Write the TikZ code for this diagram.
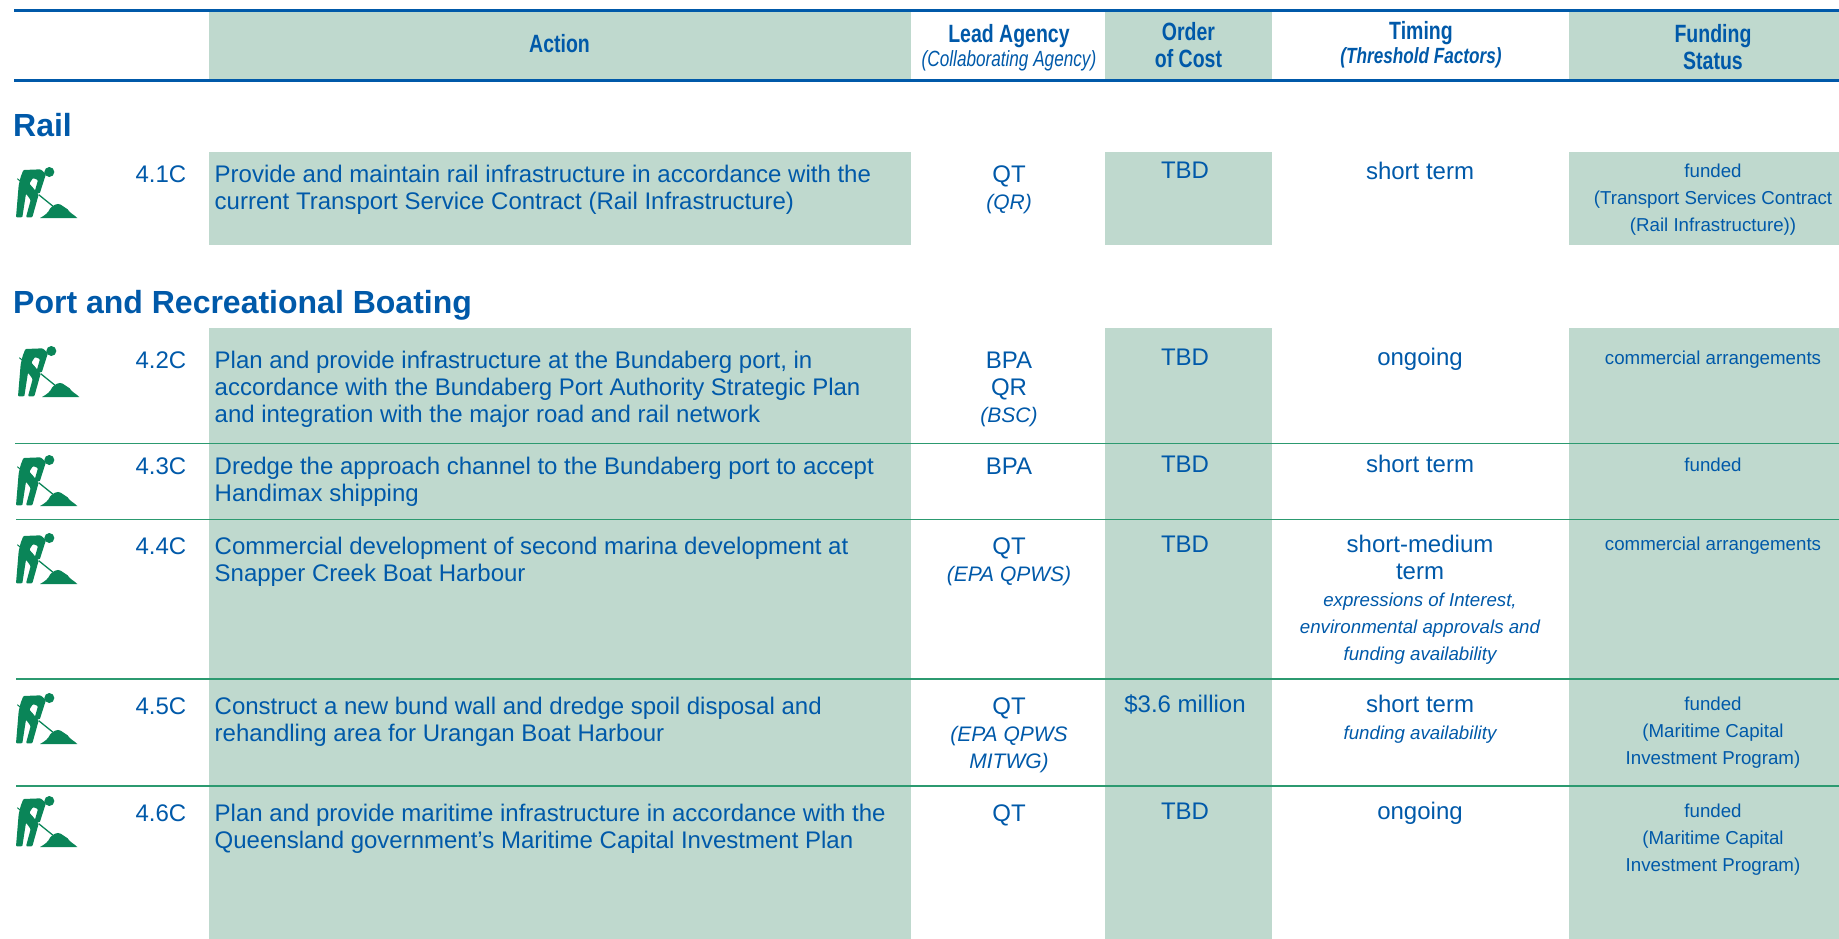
\documentclass[tikz,border=0pt]{standalone}
\usepackage{fontspec}
\setmainfont{Liberation Sans}
\newfontfamily\narrowfont[FakeStretch=0.78]{Liberation Sans}
\definecolor{bandgreen}{HTML}{BFD9CE}
\definecolor{ablue}{HTML}{0059A9}
\definecolor{digger}{HTML}{0A8558}
\definecolor{sepgreen}{HTML}{2C9A70}
\newcommand{\smit}{\fontsize{18.7}{27}\selectfont\itshape}
\newcommand{\agit}{\fontsize{21}{27}\selectfont\itshape}
\tikzset{
  x=1pt,y=-1pt,
  band/.style={fill=bandgreen,draw=none},
  headrule/.style={draw=ablue,line width=3pt},
  seprule/.style={draw=sepgreen,line width=1.5pt},
  cellbase/.style={inner sep=0pt,text=ablue,font=\fontsize{24}{27}\selectfont},
  bodytext/.style={cellbase,align=left,anchor=north west},
  cell/.style={cellbase,align=center,anchor=north},
  fundcell/.style={cell,font=\fontsize{18.7}{27}\selectfont},
  numlabel/.style={cellbase,anchor=north east},
  headcell/.style={inner sep=0pt,text=ablue,align=center,anchor=north,font=\narrowfont\fontsize{25}{27}\selectfont\bfseries},
  sechead/.style={inner sep=0pt,text=ablue,anchor=base west,font=\fontsize{32}{36}\selectfont\bfseries},
  digicon/.pic={
    \fill[digger] (148/3,90/3) circle (15/3);
    \fill[digger,rounded corners=1pt] (70/3,84/3) -- (122/3,82/3) -- (138/3,96/3) -- (119/3,155/3) -- (104/3,149/3) -- (114/3,114/3) -- (99/3,108/3) -- (88/3,125/3) -- (98/3,136/3) -- (116/3,158/3) -- (97/3,226/3) -- (78/3,226/3) -- (92/3,174/3) -- (78/3,155/3) -- (67/3,226/3) -- (48/3,226/3) -- (56/3,130/3) -- (62/3,105/3) -- cycle;
    \draw[digger,line width=1pt] (52/3,110/3) -- (72/3,127/3);
    \draw[digger,line width=1.3pt] (116/3,158/3) -- (158/3,192/3);
    \fill[digger] (120/3,228/3) .. controls (135/3,220/3) and (145/3,212/3) .. (150/3,200/3) .. controls (158/3,190/3) and (172/3,182/3) .. (182/3,188/3) .. controls (190/3,192/3) and (195/3,198/3) .. (203/3,202/3) .. controls (208/3,212/3) and (222/3,218/3) .. (232/3,228/3) -- cycle;
  }
}
\begin{document}
\begin{tikzpicture}
\useasboundingbox (0,0) rectangle (1839,939);
% bands
\fill[band] (209,10) rectangle (911,81);
\fill[band] (1105,10) rectangle (1271.5,81);
\fill[band] (1569,10) rectangle (1839,81);
\fill[band] (209,152) rectangle (911,245);
\fill[band] (1105,152) rectangle (1271.5,245);
\fill[band] (1569,152) rectangle (1839,245);
\fill[band] (209,328) rectangle (911,939);
\fill[band] (1105,328) rectangle (1271.5,939);
\fill[band] (1569,328) rectangle (1839,939);
% rules
\draw[headrule] (14,10.5) -- (1839,10.5);
\draw[headrule] (14,81) -- (1839,81);
\draw[seprule] (15,443.5) -- (1839,443.5);
\draw[seprule] (16,519.5) -- (1839,519.5);
\draw[seprule] (16,679) -- (1839,679);
\draw[seprule] (16,786) -- (1839,786);
% header
\node[headcell] (hAction) at (559.5,33) {\strut Action};
\node[headcell] (hLead) at (1009,23) {\strut Lead Agency\\[-3pt]{\fontsize{22}{27}\selectfont\mdseries\itshape (Collaborating Agency)}};
\node[headcell] (hOrder) at (1188.5,21) {\strut Order\\of Cost};
\node[headcell] (hTiming) at (1421,20) {\strut Timing\\[-3pt]{\fontsize{22}{27}\selectfont\itshape (Threshold Factors)}};
\node[headcell] (hFunding) at (1713,23) {\strut Funding\\Status};
% section headings
\node[sechead] (sRail) at (13,136) {Rail};
\node[sechead] (sPort) at (13,313) {Port and Recreational Boating};
% icons
\pic at (0,142) {digicon};
\pic at (2,321) {digicon};
\pic at (0,430) {digicon};
\pic at (0,508) {digicon};
\pic at (0,668) {digicon};
\pic at (0,771) {digicon};
% row 4.1C
\node[numlabel] (n1) at (186.5,163) {\strut 4.1C};
\node[bodytext] (a1) at (214.5,163) {\strut Provide and maintain rail infrastructure in accordance with the\\current Transport Service Contract (Rail Infrastructure)};
\node[cell] (l1) at (1009,163) {\strut QT\\{\agit (QR)}};
\node[cell] (c1) at (1185,159) {\strut TBD};
\node[cell] (t1) at (1420,160) {\strut short term};
\node[fundcell] (f1) at (1713,158) {\strut funded\\(Transport Services Contract\\(Rail Infrastructure))};
% row 4.2C
\node[numlabel] (n2) at (186.5,349) {\strut 4.2C};
\node[bodytext] (a2) at (214.5,349) {\strut Plan and provide infrastructure at the Bundaberg port, in\\accordance with the Bundaberg Port Authority Strategic Plan\\and integration with the major road and rail network};
\node[cell] (l2) at (1009,349) {\strut BPA\\QR\\{\agit (BSC)}};
\node[cell] (c2) at (1185,346) {\strut TBD};
\node[cell] (t2) at (1420,346) {\strut ongoing};
\node[fundcell] (f2) at (1713,345) {\strut commercial arrangements};
% row 4.3C
\node[numlabel] (n3) at (186.5,455) {\strut 4.3C};
\node[bodytext] (a3) at (214.5,455) {\strut Dredge the approach channel to the Bundaberg port to accept\\Handimax shipping};
\node[cell] (l3) at (1009,455) {\strut BPA};
\node[cell] (c3) at (1185,453) {\strut TBD};
\node[cell] (t3) at (1420,453) {\strut short term};
\node[fundcell] (f3) at (1713,452) {\strut funded};
% row 4.4C
\node[numlabel] (n4) at (186.5,535) {\strut 4.4C};
\node[bodytext] (a4) at (214.5,535) {\strut Commercial development of second marina development at\\Snapper Creek Boat Harbour};
\node[cell] (l4) at (1009,535) {\strut QT\\{\agit (EPA QPWS)}};
\node[cell] (c4) at (1185,533) {\strut TBD};
\node[cell] (t4) at (1420,533) {\strut short-medium\\term\\{\smit expressions of Interest,}\\{\smit environmental approvals and}\\{\smit funding availability}};
\node[fundcell] (f4) at (1713,531) {\strut commercial arrangements};
% row 4.5C
\node[numlabel] (n5) at (186.5,695) {\strut 4.5C};
\node[bodytext] (a5) at (214.5,695) {\strut Construct a new bund wall and dredge spoil disposal and\\rehandling area for Urangan Boat Harbour};
\node[cell] (l5) at (1009,695) {\strut QT\\{\agit (EPA QPWS}\\{\agit MITWG)}};
\node[cell] (c5) at (1185,693) {\strut \$3.6 million};
\node[cell] (t5) at (1420,693) {\strut short term\\{\smit funding availability}};
\node[fundcell] (f5) at (1713,691) {\strut funded\\(Maritime Capital\\Investment Program)};
% row 4.6C
\node[numlabel] (n6) at (186.5,802) {\strut 4.6C};
\node[bodytext] (a6) at (214.5,802) {\strut Plan and provide maritime infrastructure in accordance with the\\Queensland government’s Maritime Capital Investment Plan};
\node[cell] (l6) at (1009,802) {\strut QT};
\node[cell] (c6) at (1185,800) {\strut TBD};
\node[cell] (t6) at (1420,800) {\strut ongoing};
\node[fundcell] (f6) at (1713,798) {\strut funded\\(Maritime Capital\\Investment Program)};
\end{tikzpicture}
\end{document}
